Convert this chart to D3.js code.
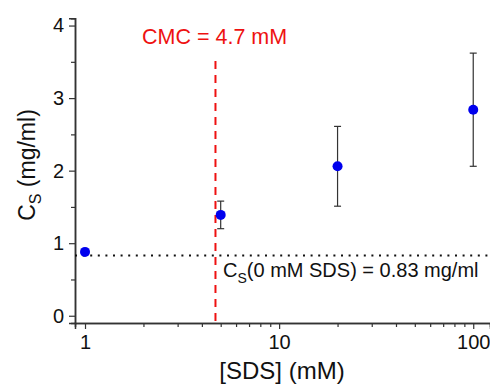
<!DOCTYPE html>
<html>
<head>
<meta charset="utf-8">
<script src="https://cdn.jsdelivr.net/npm/d3@7"></script>
<style>
  html, body { margin: 0; padding: 0; background: #fff; }
  text { font-family: "Liberation Sans", Arial, sans-serif; }
</style>
</head>
<body>
<figure id="scatter" style="margin:0"></figure>
<script>
// [SDS] in mM and solubility Cs in mg/ml
const sds = [1, 5, 20, 100];
const cs = [0.88, 1.39, 2.06, 2.84];
const csErr = [0, 0.19, 0.55, 0.78];
const xTicks = [1, 10, 100];
const yTicks = [0, 1, 2, 3, 4];
const cmc = 4.7;
const cs0 = 0.83;

const width = 490, height = 387;
const axisColor = "#333";

const svg = d3.select("figure#scatter")
  .append("svg")
  .attr("width", width)
  .attr("height", height);

// Add X axis (log)
const x = d3.scaleLog()
  .domain([0.888, 122])
  .range([75, 490]);

// Add Y axis
const y = d3.scaleLinear()
  .domain([-0.1, 4.1])
  .range([323, 18.3]);

const minorX = [];
[1, 10, 100].forEach(dec => {
  for (let k = 2; k <= 9; k++) {
    const v = dec * k;
    if (v < x.domain()[1]) minorX.push(v);
  }
});

const gx = svg.append("g")
  .attr("transform", "translate(0," + y(-0.1) + ")");
gx.call(d3.axisBottom(x).tickValues(minorX).tickSize(4).tickFormat(""));
gx.call(g => g.append("g").call(d3.axisBottom(x).tickValues(xTicks).tickSize(6).tickPadding(6)
  .tickFormat(d3.format("d"))));
gx.selectAll("path.domain").attr("stroke", axisColor).attr("stroke-width", 1.5);
gx.selectAll(".tick line").attr("stroke", axisColor).attr("stroke-width", 1.2);
gx.selectAll("text").attr("fill", "#111").style("font-size", "20px");

const gy = svg.append("g")
  .attr("transform", "translate(" + x(0.888) + ",0)");
gy.call(d3.axisLeft(y).tickValues([0.5, 1.5, 2.5, 3.5]).tickSize(4).tickFormat(""));
gy.call(g => g.append("g").call(d3.axisLeft(y).tickValues(yTicks).tickSize(6).tickPadding(5)
  .tickFormat(d3.format("d"))));
gy.selectAll("path.domain").attr("stroke", axisColor).attr("stroke-width", 1.5);
gy.selectAll(".tick line").attr("stroke", axisColor).attr("stroke-width", 1.2);
gy.selectAll("text").attr("fill", "#111").style("font-size", "20px");

// Axis titles
svg.append("text")
  .attr("x", 282)
  .attr("y", 379)
  .attr("text-anchor", "middle")
  .style("font-size", "24px")
  .attr("fill", "#111")
  .text("[SDS] (mM)");

const yt = svg.append("text")
  .attr("transform", "translate(35,165) rotate(-90)")
  .attr("text-anchor", "middle")
  .style("font-size", "23px")
  .attr("fill", "#111");
yt.append("tspan").text("C");
yt.append("tspan").attr("dy", 6).style("font-size", "16px").text("S");
yt.append("tspan").attr("dy", -6).text(" (mg/ml)");

// Reference lines
svg.append("line")
  .attr("x1", x(0.888)).attr("x2", width)
  .attr("y1", y(cs0)).attr("y2", y(cs0))
  .attr("stroke", "#111")
  .attr("stroke-width", 2)
  .attr("stroke-dasharray", "2,5.6");

svg.append("line")
  .attr("x1", x(cmc)).attr("x2", x(cmc))
  .attr("y1", 61).attr("y2", y(-0.1))
  .attr("stroke", "#ee1111")
  .attr("stroke-width", 2)
  .attr("stroke-dasharray", "8,6");

svg.append("text")
  .attr("x", 142)
  .attr("y", 44)
  .attr("fill", "#ee1111")
  .style("font-size", "21.5px")
  .text("CMC = " + cmc + " mM");

const ann = svg.append("text")
  .attr("x", 223)
  .attr("y", 277)
  .attr("fill", "#111")
  .style("font-size", "20px");
ann.append("tspan").text("C");
ann.append("tspan").attr("dy", 6).style("font-size", "14px").text("S");
ann.append("tspan").attr("dy", -6).text("(0 mM SDS) = " + cs0 + " mg/ml");

// Error bars
const data = sds.map((s, i) => ({ s: s, c: cs[i], e: csErr[i] }));
const bars = svg.append("g").attr("stroke", "#333").attr("stroke-width", 1.2);
data.filter(d => d.e > 0).forEach(d => {
  bars.append("line")
    .attr("x1", x(d.s)).attr("x2", x(d.s))
    .attr("y1", y(d.c - d.e)).attr("y2", y(d.c + d.e));
  [d.c - d.e, d.c + d.e].forEach(v => {
    bars.append("line")
      .attr("x1", x(d.s) - 3.5).attr("x2", x(d.s) + 3.5)
      .attr("y1", y(v)).attr("y2", y(v));
  });
});

// Add dots
svg.append("g")
  .selectAll("circle")
  .data(data)
  .enter()
  .append("circle")
  .attr("cx", d => x(d.s))
  .attr("cy", d => y(d.c))
  .attr("r", 5)
  .style("fill", "#0000ee");
</script>
</body>
</html>
